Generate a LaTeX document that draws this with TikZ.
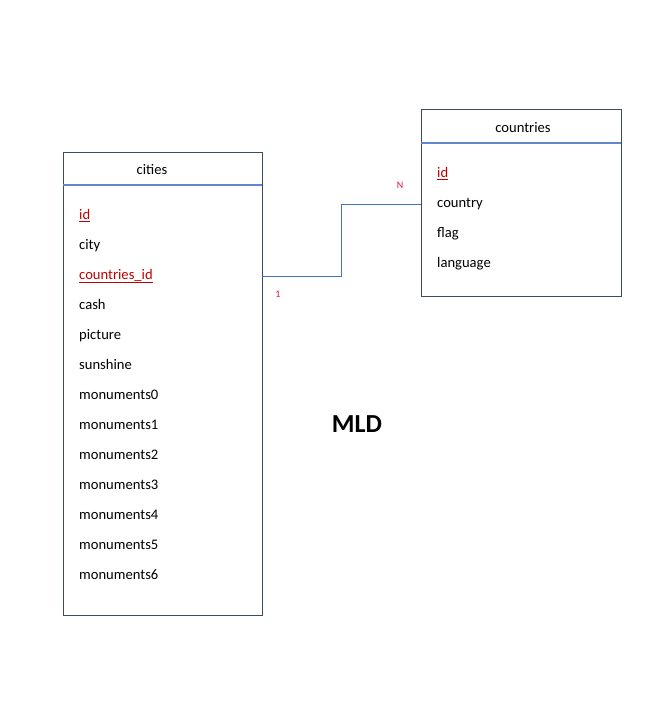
\documentclass[tikz,border=0pt]{standalone}
\usepackage{fontspec}
\setmainfont{Carlito}
\usetikzlibrary{calc}
\definecolor{boxline}{RGB}{62,74,96}
\definecolor{hdrline}{RGB}{95,135,205}
\definecolor{conn}{RGB}{68,114,196}
\definecolor{keyred}{RGB}{192,0,0}
\definecolor{cardred}{RGB}{220,20,60}
\begin{document}
\begin{tikzpicture}[x=1pt,y=-1pt,
  table/.style={draw=boxline,line width=1.3pt,inner sep=0pt,anchor=north west},
  field/.style={anchor=west,inner sep=0pt,text height=12pt,text depth=1.5pt,font=\fontsize{14.6}{17}\selectfont,text=black},
  keyfield/.style={field,text=keyred},
  title/.style={inner sep=0pt,text height=12pt,text depth=1.5pt,font=\fontsize{14.6}{17}\selectfont},
  card/.style={inner sep=0pt,text height=7pt,text depth=0pt,font=\fontsize{10}{12}\selectfont,text=cardred},
  hline/.style={draw=hdrline,line width=1.2pt},
  link/.style={draw=conn,line width=1pt}]
\useasboundingbox (0,0) rectangle (667,710);
% cities table
\node[table,minimum width=199pt,minimum height=463pt] (cities) at (63,152) {};
\node[title] (citiest) at (152,169) {cities};
\coordinate (ch1) at (63,185);
\coordinate (ch2) at (262,185);
\draw[hline] (ch1) -- (ch2);
\node[keyfield] (cid) at (79,214) {\underline{id}};
\node[field] (ccity) at (79,244) {city};
\node[keyfield] (cfk) at (79,274) {\underline{countries\_id}};
\node[field] (ccash) at (79,304) {cash};
\node[field] (cpic) at (79,334) {picture};
\node[field] (csun) at (79,364) {sunshine};
\node[field] (cm0) at (79,394) {monuments0};
\node[field] (cm1) at (79,424) {monuments1};
\node[field] (cm2) at (79,454) {monuments2};
\node[field] (cm3) at (79,484) {monuments3};
\node[field] (cm4) at (79,514) {monuments4};
\node[field] (cm5) at (79,544) {monuments5};
\node[field] (cm6) at (79,574) {monuments6};
% countries table
\node[table,minimum width=200pt,minimum height=187pt] (countries) at (421,109) {};
\node[title] (countriest) at (523,127) {countries};
\coordinate (kh1) at (421,143);
\coordinate (kh2) at (621,143);
\draw[hline] (kh1) -- (kh2);
\node[keyfield] (kid) at (437,172) {\underline{id}};
\node[field] (kcountry) at (437,202) {country};
\node[field] (kflag) at (437,232) {flag};
\node[field] (klang) at (437,262) {language};
% connector
\coordinate (ls) at (262,276);
\coordinate (le) at (421,204);
\draw[link] (ls) -- (341,276) -- (341,204) -- (le);
\node[card] (one) at (278,294) {1};
\node[card] (many) at (400,185) {N};
% title
\node[inner sep=0pt,font=\fontsize{26}{30}\bfseries\selectfont] (mld) at (357,424) {MLD};
\end{tikzpicture}
\end{document}
